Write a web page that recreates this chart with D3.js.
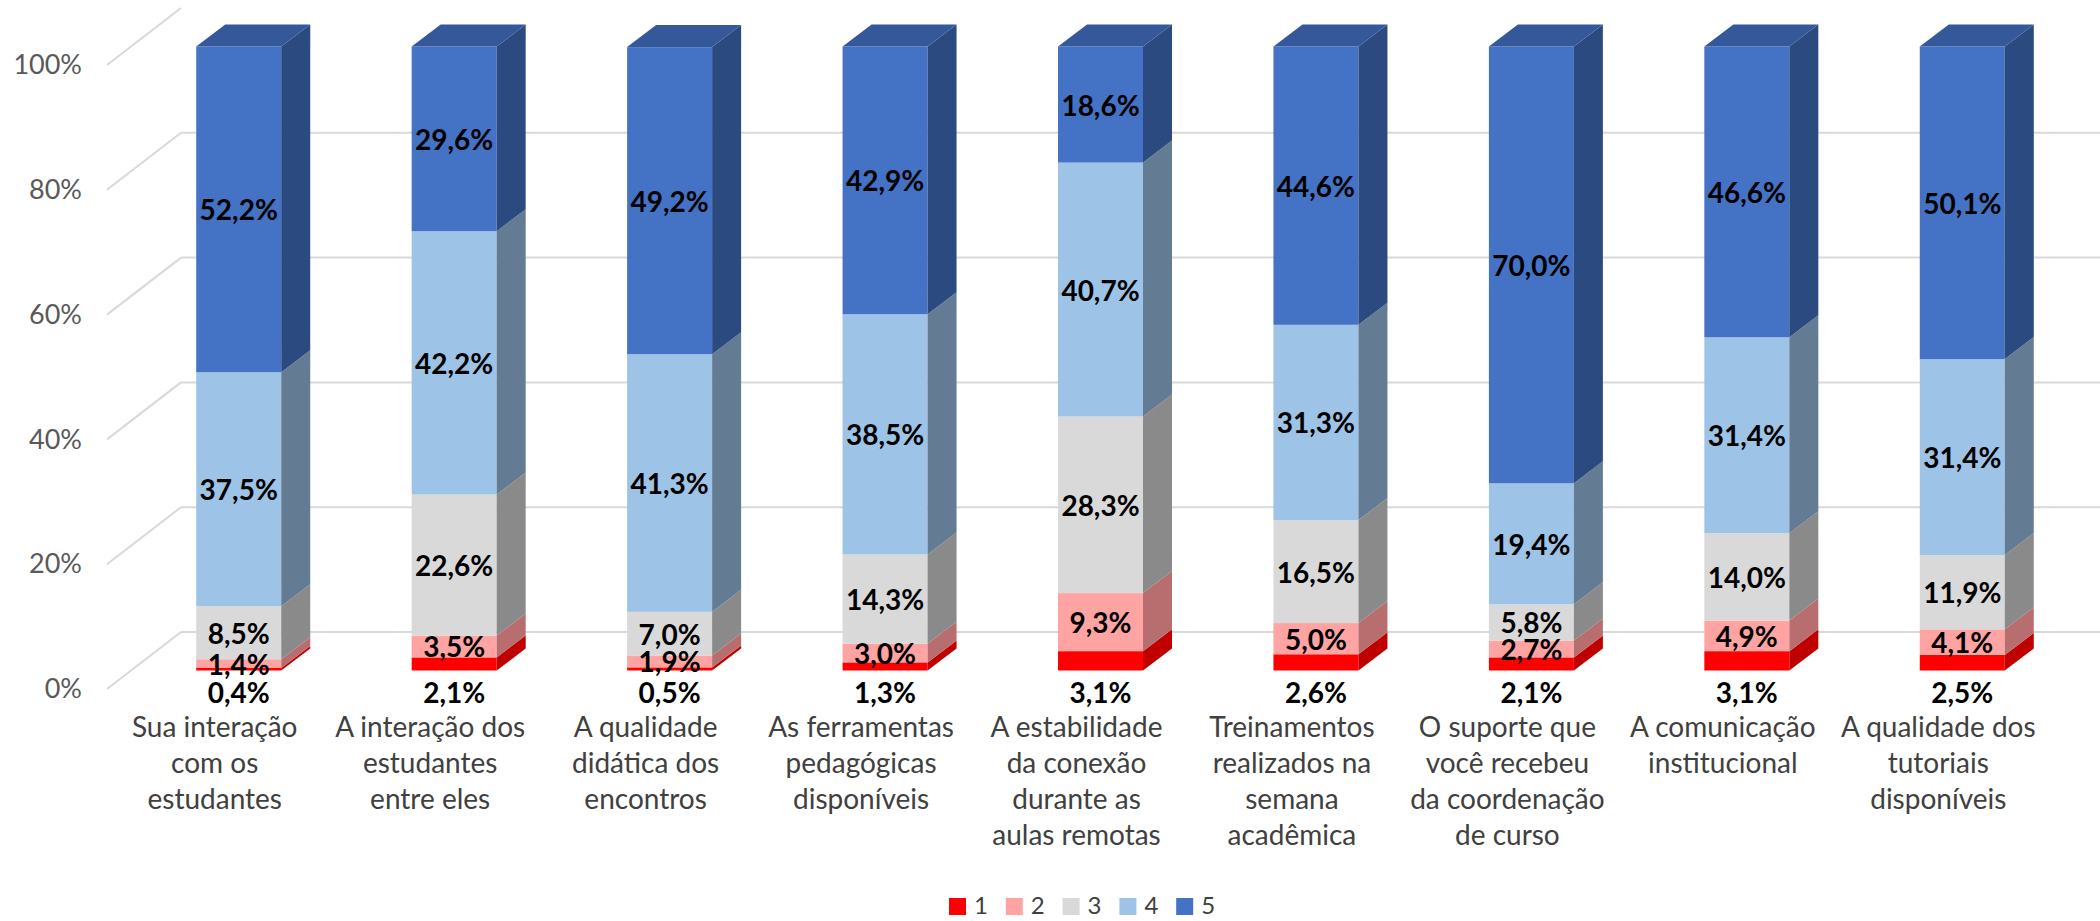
<!DOCTYPE html>
<html>
<head>
<meta charset="utf-8">
<script src="https://cdn.jsdelivr.net/npm/d3@7"></script>
<style>
  body { margin: 0; background: #fff; }
  text { font-family: Lato, "Liberation Sans", sans-serif; }
</style>
</head>
<body>
<div id="chart"></div>
<script>

var categories = [
    "Sua interação\ncom os\nestudantes",
    "A interação dos\nestudantes\nentre eles",
    "A qualidade\ndidática dos\nencontros",
    "As ferramentas\npedagógicas\ndisponíveis",
    "A estabilidade\nda conexão\ndurante as\naulas remotas",
    "Treinamentos\nrealizados na\nsemana\nacadêmica",
    "O suporte que\nvocê recebeu\nda coordenação\nde curso",
    "A comunicação\ninstitucional",
    "A qualidade dos\ntutoriais\ndisponíveis"
];

var seriesNames = ["1", "2", "3", "4", "5"];

var values1 = [0.4, 2.1, 0.5, 1.3, 3.1, 2.6, 2.1, 3.1, 2.5];
var values2 = [1.4, 3.5, 1.9, 3.0, 9.3, 5.0, 2.7, 4.9, 4.1];
var values3 = [8.5, 22.6, 7.0, 14.3, 28.3, 16.5, 5.8, 14.0, 11.9];
var values4 = [37.5, 42.2, 41.3, 38.5, 40.7, 31.3, 19.4, 31.4, 31.4];
var values5 = [52.2, 29.6, 49.2, 42.9, 18.6, 44.6, 70.0, 46.6, 50.1];

var yTicks = [0, 20, 40, 60, 80, 100];

var frontColors = ["#ff0000", "#ffa3a3", "#d9d9d9", "#9dc3e6", "#4472c4"];
var sideColors  = ["#c00000", "#b86e6e", "#8a8a8a", "#647b94", "#2b4a7f"];
var topColor = "#34589a";

var allSeries = [values1, values2, values3, values4, values5];

var svgWidth = 2100, svgHeight = 921;

var svg = d3.select("#chart").append("svg")
    .attr("width", svgWidth)
    .attr("height", svgHeight);

// floor front plane scales
var x = d3.scaleBand().domain(categories).range([107, 2046]).paddingInner(0).paddingOuter(0);
var y = d3.scaleLinear().domain([0, 100]).range([689, 65]);

// oblique depth offsets
var wall = {dx: 74, dy: -57};
var barFront = {dx: 24, dy: -18.5};
var barDepth = {dx: 29, dy: -22};
var barWidth = 85;

// gridlines: left side wall diagonal + back wall horizontal
var grid = svg.append("g").attr("class", "grid");
yTicks.forEach(function(t) {
    grid.append("line")
        .attr("x1", x.range()[0]).attr("y1", y(t))
        .attr("x2", x.range()[0] + wall.dx).attr("y2", y(t) + wall.dy)
        .attr("stroke", "#d9d9d9").attr("stroke-width", 2);
    if (t < 100) {
        grid.append("line")
            .attr("x1", x.range()[0] + wall.dx).attr("y1", y(t) + wall.dy)
            .attr("x2", svgWidth).attr("y2", y(t) + wall.dy)
            .attr("stroke", "#d9d9d9").attr("stroke-width", 2);
    }
});

// y axis labels
var yAxis = svg.append("g")
    .attr("transform", "translate(" + x.range()[0] + ",0)")
    .call(d3.axisLeft(y).tickValues(yTicks).tickSize(0).tickPadding(25)
        .tickFormat(function(d) { return d + "%"; }));
yAxis.select(".domain").remove();
yAxis.selectAll("text")
    .style("font-family", "Lato, sans-serif")
    .style("font-size", "27px")
    .attr("fill", "#595959");

// stack data
var rows = categories.map(function(c, i) {
    var r = {cat: c};
    seriesNames.forEach(function(s, k) { r[s] = allSeries[k][i]; });
    return r;
});
var stacked = d3.stack().keys(seriesNames)(rows);

function pts(a) { return a.map(function(p) { return p.join(","); }).join(" "); }

var bars = svg.append("g").attr("class", "bars");

categories.forEach(function(c, i) {
    var x0 = x(c) + x.bandwidth() / 2 - barWidth / 2 + barFront.dx;
    var x1 = x0 + barWidth;
    var g = bars.append("g");
    stacked.forEach(function(layer, k) {
        var d = layer[i];
        var yb = y(d[0]) + barFront.dy;
        var yt = y(d[1]) + barFront.dy;
        g.append("rect")
            .attr("x", x0).attr("y", yt)
            .attr("width", barWidth).attr("height", yb - yt)
            .attr("fill", frontColors[k]);
        g.append("polygon")
            .attr("points", pts([[x1, yt], [x1, yb], [x1 + barDepth.dx, yb + barDepth.dy], [x1 + barDepth.dx, yt + barDepth.dy]]))
            .attr("fill", sideColors[k]);
        if (k === stacked.length - 1) {
            g.append("polygon")
                .attr("points", pts([[x0, yt], [x1, yt], [x1 + barDepth.dx, yt + barDepth.dy], [x0 + barDepth.dx, yt + barDepth.dy]]))
                .attr("fill", topColor);
        }
    });
});

// data labels
var labels = svg.append("g").attr("class", "labels");
stacked.forEach(function(layer, k) {
    labels.selectAll(".lbl" + k)
        .data(layer)
        .enter().append("text")
        .attr("x", function(d, i) { return x(categories[i]) + x.bandwidth() / 2 + barFront.dx; })
        .attr("y", function(d) {
            if (k === 0) return y(0) + 3;
            return y((d[0] + d[1]) / 2) + barFront.dy;
        })
        .attr("text-anchor", "middle")
        .attr("dominant-baseline", "central")
        .style("font-size", "28px")
        .style("font-weight", "bold")
        .attr("fill", "#000")
        .text(function(d) { return (d[1] - d[0]).toFixed(1).replace(".", ",") + "%"; });
});

// category labels
var catG = svg.append("g").attr("class", "categories");
categories.forEach(function(c) {
    var t = catG.append("text")
        .attr("x", x(c) + x.bandwidth() / 2)
        .attr("y", 737)
        .attr("text-anchor", "middle")
        .style("font-size", "28px")
        .attr("fill", "#404040");
    c.split("\n").forEach(function(line, j) {
        t.append("tspan")
            .attr("x", x(c) + x.bandwidth() / 2)
            .attr("dy", j === 0 ? 0 : 36)
            .text(line);
    });
});

// legend
var legend = svg.append("g").attr("transform", "translate(949,898)");
seriesNames.forEach(function(s, k) {
    var lg = legend.append("g").attr("transform", "translate(" + (k * 56.8) + ",0)");
    lg.append("rect").attr("width", 17).attr("height", 17).attr("fill", frontColors[k]);
    lg.append("text")
        .attr("x", 25).attr("y", 16)
        .style("font-size", "24px")
        .attr("fill", "#404040")
        .text(s);
});

</script>
</body>
</html>
